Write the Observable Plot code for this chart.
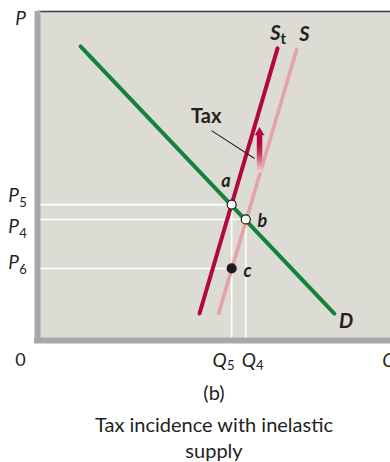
<!DOCTYPE html>
<html><head><meta charset="utf-8">
<script src="https://cdn.jsdelivr.net/npm/d3@7"></script>
<script src="https://cdn.jsdelivr.net/npm/@observablehq/plot@0.6"></script>
<style>
body{margin:0;background:#fff;font-family:Lato,"Open Sans",sans-serif;color:#231f20;overflow:hidden;}
#chart svg{display:block;}
#caption{width:352px;padding-left:38px;text-align:center;font-size:20px;line-height:26px;}
#caption .b{margin-top:7px;margin-bottom:6px;}
</style></head><body>
<div id="chart"></div>
<div id="caption"><div class="b">(b)</div><div>Tax incidence with inelastic<br>supply</div></div>
<script>
// ---- data (abstract Q/P units, 0..100) ----
const demandQ = [12.2, 84.1];
const demandP = [89.4, 8.2];
const supplyTaxQ = [45.9, 68.0];
const supplyTaxP = [8.2, 88.8];
const supplyQ = [51.3, 73.4];
const supplyP = [8.2, 88.4];
const pointNames = ["a", "b", "c"];
const pointQ = [55, 59, 55];
const pointP = [41.3, 36.8, 21.9];
const pointOpen = [true, true, false];
const pointLabelQ = [53.4, 63.7, 59.5];
const pointLabelP = [48.3, 36.2, 21.0];
const priceTickLabels = ["5", "4", "6"];
const priceTickValues = [41.3, 36.8, 21.9];
const priceLabelOffset = [-9, 7, -6];
const qtyTickLabels = ["5", "4"];
const qtyTickValues = [55, 59];
const qtyLabelOffset = [-12, 3];
const taxArrowQ = 62.9;
const taxArrowP = [51.1, 62.6];
const taxLeaderQ = [49.3, 61.5];
const taxLeaderP = [63.8, 55.3];

const crimson = "#b3083f", pink = "#e4a3a6", green = "#13823c", bg = "#dcdbd4", bar = "#a7a8ab", ink = "#231f20";

const line = (qs, ps) => qs.map((q, i) => ({q, p: ps[i]}));
const pts = pointNames.map((n, i) => ({n, q: pointQ[i], p: pointP[i], open: pointOpen[i], lq: pointLabelQ[i], lp: pointLabelP[i]}));

const font = "Lato, 'Open Sans', sans-serif";
const bi = {fontWeight: "bold", fontStyle: "italic", fill: ink};

const priceMarks = priceTickLabels.flatMap((s, i) => [
  Plot.text([priceTickValues[i]], {x: 0, y: d => d, text: () => "P", dx: -24, dy: priceLabelOffset[i], fontSize: 19, fontStyle: "italic", fill: ink}),
  Plot.text([priceTickValues[i]], {x: 0, y: d => d, text: () => s, dx: -14.5, dy: priceLabelOffset[i] + 7, fontSize: 13, fill: ink})
]);
const qtyMarks = qtyTickLabels.flatMap((s, i) => [
  Plot.text([qtyTickValues[i]], {x: d => d, y: 0, text: () => "Q", dx: qtyLabelOffset[i], dy: 20, fontSize: 19, fontStyle: "italic", fill: ink}),
  Plot.text([qtyTickValues[i]], {x: d => d, y: 0, text: () => s, dx: qtyLabelOffset[i] + 11, dy: 25, fontSize: 13, fill: ink})
]);

const plot = Plot.plot({
  width: 390, height: 372,
  marginLeft: 37, marginRight: 0, marginTop: 11, marginBottom: 32,
  x: {domain: [0, 100], axis: null},
  y: {domain: [0, 100], axis: null},
  style: {fontFamily: font, overflow: "visible", color: ink},
  marks: [
    Plot.frame({fill: bg, stroke: null}),
    Plot.ruleY([100], {stroke: "#3b3b3b", strokeWidth: 1.5}),
    // guide lines
    Plot.link(pts, {x1: 0, x2: "q", y1: "p", y2: "p", stroke: "#fff", strokeWidth: 1.6}),
    Plot.link(pts.filter(d => d.open), {x1: "q", x2: "q", y1: "p", y2: 0, stroke: "#fff", strokeWidth: 1.6}),
    // axis bars
    Plot.ruleX([0], {stroke: bar, strokeWidth: 6}),
    Plot.ruleY([0], {stroke: bar, strokeWidth: 6, insetLeft: -3}),
    // curves
    Plot.line(line(supplyQ, supplyP), {x: "q", y: "p", stroke: pink, strokeWidth: 3.6}),
    Plot.line(line(supplyTaxQ, supplyTaxP), {x: "q", y: "p", stroke: crimson, strokeWidth: 4}),
    Plot.line(line(demandQ, demandP), {x: "q", y: "p", stroke: green, strokeWidth: 4}),
    // tax arrow
    Plot.link([taxArrowQ], {x1: d => d, x2: d => d, y1: taxArrowP[0], y2: taxArrowP[1], stroke: "url(#taxGrad)", strokeWidth: 5.5}),
    Plot.dot([taxArrowQ], {x: d => d, y: taxArrowP[1] + 0.6, symbol: "triangle", r: 3.6, fill: crimson, stroke: null}),
    Plot.link([0], {x1: taxLeaderQ[0], y1: taxLeaderP[0], x2: taxLeaderQ[1], y2: taxLeaderP[1], stroke: "#222", strokeWidth: 1.1}),
    Plot.text(["Tax"], {x: 47.8, y: 68.0, text: d => d, fontSize: 20, fontWeight: "bold", fill: ink}),
    // points
    Plot.dot(pts, {x: "q", y: "p", r: 4.5, fill: d => d.open ? "#fff" : "#1c1c1c", stroke: "#1c1c1c", strokeWidth: 1.2}),
    Plot.text(pts, {x: "lq", y: "lp", text: "n", fontSize: 18, ...bi}),
    // curve labels
    Plot.text(["D"], {x: 87.4, y: 5.6, text: d => d, fontSize: 20, ...bi}),
    Plot.text(["S"], {x: 75.6, y: 93.0, text: d => d, fontSize: 20, ...bi}),
    Plot.text(["S"], {x: 67.4, y: 93.2, text: d => d, fontSize: 20, ...bi}),
    Plot.text(["t"], {x: 69.6, y: 91.6, text: d => d, fontSize: 15, fontWeight: "bold", fill: ink}),
    // axis titles
    Plot.text(["P"], {x: -4.8, y: 97.6, text: d => d, fontSize: 19, fontStyle: "italic", fill: ink}),
    Plot.text(["0"], {x: -4.8, y: 0, dy: 20, text: d => d, fontSize: 18, fill: ink}),
    Plot.text(["Q"], {x: 99.7, y: 0, dy: 20, text: d => d, fontSize: 19, fontStyle: "italic", fill: ink}),
    ...priceMarks,
    ...qtyMarks
  ]
});

// gradient for the tax arrow shaft
const xs = plot.scale("x"), ys = plot.scale("y");
const ns = "http://www.w3.org/2000/svg";
const defs = document.createElementNS(ns, "defs");
const g = document.createElementNS(ns, "linearGradient");
g.setAttribute("id", "taxGrad");
g.setAttribute("gradientUnits", "userSpaceOnUse");
g.setAttribute("x1", xs.apply(taxArrowQ)); g.setAttribute("x2", xs.apply(taxArrowQ));
g.setAttribute("y1", ys.apply(taxArrowP[0])); g.setAttribute("y2", ys.apply(taxArrowP[1]));
[[0, "#f1dde0"], [0.5, "#c23a5c"], [0.75, crimson], [1, crimson]].forEach(([o, c]) => {
  const s = document.createElementNS(ns, "stop");
  s.setAttribute("offset", o); s.setAttribute("stop-color", c); g.appendChild(s);
});
defs.appendChild(g);
plot.insertBefore(defs, plot.firstChild);
document.getElementById("chart").appendChild(plot);
</script>
</body></html>
